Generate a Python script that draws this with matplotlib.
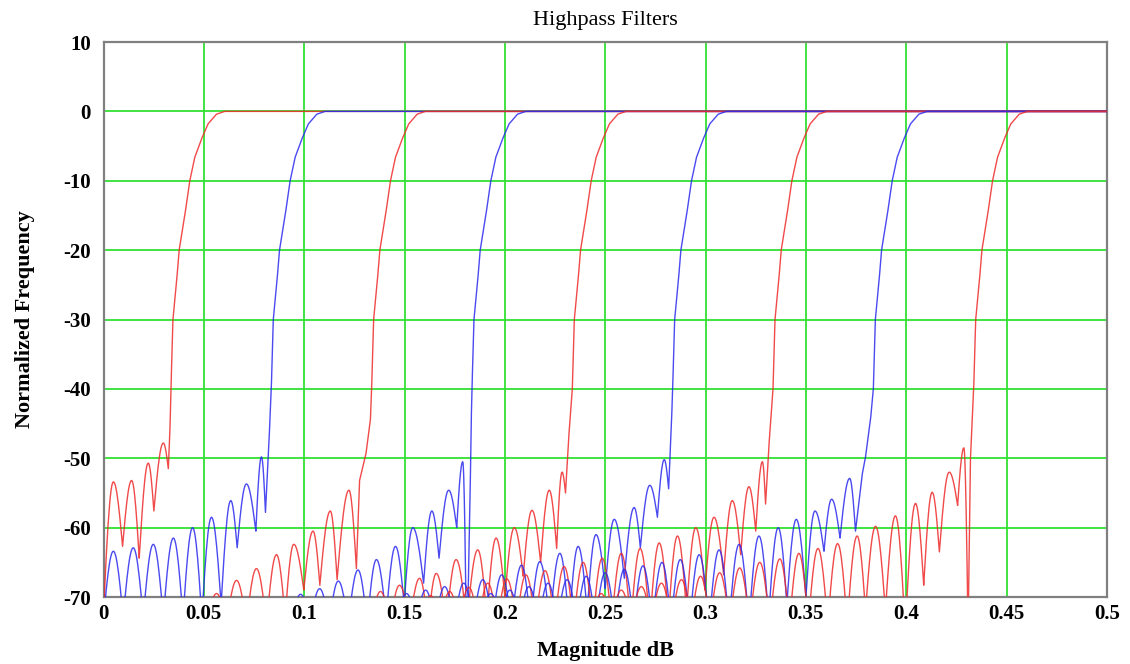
import numpy as np
import matplotlib
matplotlib.use("Agg")
import matplotlib.pyplot as plt

plt.rcParams['font.family'] = ['Liberation Serif', 'DejaVu Serif']
plt.rcParams['axes.unicode_minus'] = False

# axis ticks
x_ticks = [0, 0.05, 0.1, 0.15, 0.2, 0.25, 0.3, 0.35, 0.4, 0.45, 0.5]
x_labels = ['0', '0.05', '0.1', '0.15', '0.2', '0.25', '0.3', '0.35', '0.4', '0.45', '0.5']
y_ticks = [10, 0, -10, -20, -30, -40, -50, -60, -70]

# shared transition shape (read from the first filter), shifted per filter
trans_x = [0.0336, 0.0346, 0.0364, 0.0377, 0.0405, 0.043, 0.0455, 0.0488, 0.0521, 0.0563, 0.0604]
trans_y = [-40, -30, -24.6, -20, -15, -10, -6.6, -4, -1.8, -0.4, 0]
shifts = [0, 0.05, 0.1, 0.15, 0.2, 0.25, 0.3, 0.35, 0.4]
colors = ['#ee2a2a', '#2a2aee', '#ee2a2a', '#2a2aee', '#ee2a2a', '#2a2aee', '#ee2a2a', '#2a2aee', '#ee2a2a']

# stopband vertices (alternating nulls / peaks, then the foot of the rise)
f1_x = [0.0, 0.0049, 0.0095, 0.014, 0.0178, 0.0223, 0.0251, 0.0298, 0.0323, 0.0331]
f1_y = [-72, -53.4, -62.7, -53.2, -64.4, -50.7, -57.6, -47.8, -51.5, -46]

f2_x = [0.0, 0.0049, 0.0098, 0.0148, 0.0198, 0.0248, 0.0298, 0.0348, 0.0396, 0.0444,
        0.049, 0.0538, 0.0586, 0.0634, 0.0666, 0.0712, 0.0759, 0.0787, 0.0807, 0.0824]
f2_y = [-73, -63.4, -73, -62.9, -73, -62.4, -73, -61.5, -73, -60,
        -73, -58.5, -71, -56.1, -62.9, -53.7, -60.5, -49.8, -57.8, -48]

f3_x = [0.042, 0.0468, 0.0515, 0.0563, 0.0613, 0.0663, 0.0712, 0.0762, 0.0812, 0.0862,
        0.0905, 0.0948, 0.0998, 0.1044, 0.1078, 0.113, 0.1164, 0.1223, 0.126, 0.1276,
        0.1308, 0.133]
f3_y = [-74, -70.5, -74, -69.5, -74, -67.6, -74, -65.9, -74, -63.9,
        -73, -62.4, -69, -60.5, -68.3, -57.6, -67.5, -54.6, -65.9, -53.2,
        -49.3, -44.4]

f4_x = [0.084, 0.0887, 0.0935, 0.0982, 0.103, 0.1077, 0.1124, 0.117, 0.1219, 0.1268,
        0.1314, 0.136, 0.1408, 0.1455, 0.1498, 0.1541, 0.1595, 0.1636, 0.1672, 0.172,
        0.176, 0.179, 0.181, 0.1827, 0.1832]
f4_y = [-74, -70.5, -74, -69.6, -74, -68.8, -74, -67.7, -74, -66.1,
        -74, -64.6, -73, -62.7, -71, -60, -68, -57.6, -64.4, -54.6,
        -60, -50.5, -80, -55, -45]

f5_x = [0.1238, 0.1285, 0.1333, 0.138, 0.1428, 0.1475, 0.1525, 0.1575, 0.1617, 0.1658,
        0.1708, 0.1757, 0.181, 0.1865, 0.191, 0.1956, 0.2, 0.2047, 0.2091, 0.2135,
        0.2178, 0.2221, 0.2258, 0.2285, 0.2302, 0.2318]
f5_y = [-74, -70.2, -74, -69.2, -74, -68.3, -74, -67.3, -74, -66.6,
        -74, -64.6, -74, -63.2, -73, -61.5, -70, -60, -67, -57.5,
        -65, -54.6, -63, -52, -55, -47]

f6_x = [0.137, 0.1415, 0.1462, 0.151, 0.1558, 0.1605, 0.1652, 0.17, 0.1748, 0.1795,
        0.1842, 0.189, 0.1937, 0.1984, 0.2033, 0.2083, 0.2128, 0.2174, 0.2224, 0.2274,
        0.232, 0.2365, 0.241, 0.2454, 0.25, 0.2545, 0.2595, 0.2644, 0.2675, 0.2722,
        0.276, 0.2794, 0.2816, 0.283]
f6_y = [-74, -70.3, -74, -69.5, -74, -69, -74, -68.5, -74, -68,
        -74, -67.5, -74, -66.8, -74, -65.4, -74, -64.9, -74, -63.7,
        -74, -62.7, -72, -61, -68.8, -58.8, -67.3, -57.1, -62.9, -53.9,
        -58.5, -50.2, -54.4, -45]

f7_x = [0.158, 0.163, 0.1678, 0.1725, 0.1772, 0.182, 0.1868, 0.1915, 0.1962, 0.201,
        0.2058, 0.2105, 0.2152, 0.22, 0.2248, 0.2295, 0.2342, 0.239, 0.2438, 0.2485,
        0.2532, 0.258, 0.2627, 0.2674, 0.2722, 0.2769, 0.2815, 0.286, 0.2905, 0.2951,
        0.2997, 0.3042, 0.309, 0.3133, 0.3175, 0.3216, 0.325, 0.3283, 0.3299, 0.3316]
f7_y = [-74, -69.8, -74, -69.2, -74, -68.6, -74, -68, -74, -67.4,
        -74, -66.8, -74, -66.2, -74, -65.6, -74, -65, -74, -64.4,
        -74, -63.7, -74, -63, -74, -62.2, -73, -61.2, -72, -60,
        -69, -58.5, -66.8, -56.1, -63.9, -54.1, -60.5, -50.5, -56.6, -48]

f8_x = [0.1788, 0.1835, 0.1882, 0.193, 0.1978, 0.2025, 0.2072, 0.212, 0.2168, 0.2215,
        0.2262, 0.231, 0.2358, 0.2405, 0.2452, 0.25, 0.2548, 0.2595, 0.2642, 0.2688,
        0.2735, 0.2783, 0.2828, 0.2874, 0.2921, 0.2968, 0.3018, 0.3067, 0.3117, 0.3167,
        0.3216, 0.3266, 0.3314, 0.3362, 0.3405, 0.3452, 0.35, 0.3545, 0.359, 0.3628,
        0.367, 0.3718, 0.3747, 0.378, 0.3797, 0.3822]
f8_y = [-74, -70.3, -74, -69.5, -74, -69, -74, -68.5, -74, -68,
        -74, -67.5, -74, -67, -74, -66.5, -74, -66, -74, -65.5,
        -74, -65, -74, -64.6, -74, -63.9, -74, -63.2, -74, -62.4,
        -74, -61.2, -73, -60, -71, -58.8, -70, -57.6, -63.4, -55.9,
        -61.5, -52.9, -60.5, -52.4, -49.8, -44.4]

f9_x = [0.233, 0.238, 0.243, 0.248, 0.253, 0.258, 0.263, 0.268, 0.273, 0.278,
        0.283, 0.288, 0.2928, 0.2975, 0.3022, 0.307, 0.312, 0.317, 0.322, 0.327,
        0.332, 0.337, 0.3418, 0.3465, 0.3512, 0.356, 0.3609, 0.3658, 0.3706, 0.3755,
        0.3797, 0.3847, 0.3896, 0.3946, 0.3995, 0.4046, 0.4087, 0.4129, 0.4165, 0.4214,
        0.4256, 0.4287, 0.4308, 0.432]
f9_y = [-74, -70.5, -74, -69.5, -74, -69, -74, -68.5, -74, -68,
        -74, -67.5, -74, -67, -74, -66.5, -74, -65.8, -74, -65,
        -74, -64.5, -74, -63.7, -74, -63, -74, -62.3, -74, -61.2,
        -72, -59.8, -72, -58.3, -75, -56.5, -68.3, -54.9, -63.5, -52,
        -56.8, -48.5, -75, -50]

stop_x = [f1_x, f2_x, f3_x, f4_x, f5_x, f6_x, f7_x, f8_x, f9_x]
stop_y = [f1_y, f2_y, f3_y, f4_y, f5_y, f6_y, f7_y, f8_y, f9_y]


def is_peak(ys, i):
    if i == 0 or i == len(ys) - 1:
        return False
    return ys[i] > ys[i - 1] and ys[i] > ys[i + 1]


def lobe_path(xs, ys):
    # rounded tops, sharp nulls between the read vertices
    px, py = [xs[0]], [ys[0]]
    t = np.linspace(0, 1, 14)[1:]
    for i in range(1, len(xs)):
        x0, y0, x1, y1 = xs[i - 1], ys[i - 1], xs[i], ys[i]
        if is_peak(ys, i) and y1 > y0:
            s = np.sin(t * np.pi / 2)
        elif is_peak(ys, i - 1) and y0 > y1:
            s = 1 - np.cos(t * np.pi / 2)
        else:
            s = t
        px.extend(x0 + (x1 - x0) * t)
        py.extend(y0 + (y1 - y0) * s)
    return px, py


fig = plt.figure(figsize=(11.3, 6.64), dpi=100)
ax = fig.add_axes([0.0916, 0.1009, 0.888, 0.8358])

for k in range(len(stop_x)):
    xs = list(stop_x[k])
    ys = list(stop_y[k])
    if xs[0] > 0:
        xs = [0.0] + xs
        ys = [-90] + ys
    xs = xs + [v + shifts[k] for v in trans_x] + [0.5]
    ys = ys + list(trans_y) + [0]
    px, py = lobe_path(xs, ys)
    ax.plot(px, py, color=colors[k], lw=1.0, alpha=0.85, zorder=3)

ax.set_xlim(0, 0.5)
ax.set_ylim(-70, 10)
ax.set_xticks(x_ticks)
ax.set_xticklabels(x_labels)
ax.set_yticks(y_ticks)
ax.tick_params(length=0, labelsize=15)
ax.tick_params(axis='y', pad=9)
ax.tick_params(axis='x', pad=5)
for lab in ax.get_xticklabels() + ax.get_yticklabels():
    lab.set_fontweight('bold')
ax.grid(True, color='#33e033', lw=1.3, zorder=1)
for sp in ax.spines.values():
    sp.set_color('#808080')
    sp.set_linewidth(1.6)

ax.set_title('Highpass Filters', fontsize=16, pad=12)
ax.set_xlabel('Magnitude dB', fontsize=16, fontweight='bold', labelpad=12)
ax.set_ylabel('Normalized Frequency', fontsize=16, fontweight='bold', labelpad=20)

fig.savefig('out.png', dpi=100)
